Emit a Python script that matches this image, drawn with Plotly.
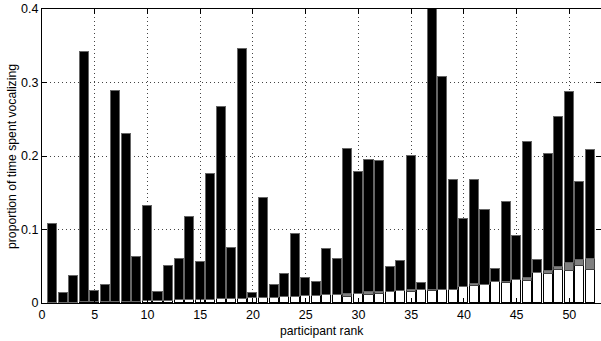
import plotly.graph_objects as go

ranks = list(range(1, 53))
totals = [0.107, 0.0136, 0.037, 0.3415, 0.0163, 0.024, 0.289, 0.2298, 0.062, 0.132,
          0.0146, 0.050, 0.060, 0.117, 0.056, 0.175, 0.2666, 0.075, 0.3457, 0.013,
          0.143, 0.024, 0.0395, 0.0945, 0.034, 0.0286, 0.073, 0.060, 0.2094, 0.1776,
          0.194, 0.1926, 0.049, 0.0568, 0.1994, 0.0268, 0.43, 0.307, 0.167, 0.1144,
          0.1667, 0.1259, 0.046, 0.137, 0.091, 0.219, 0.058, 0.203, 0.2526, 0.2875,
          0.1644, 0.208]
white_part = [0.0, 0.0003, 0.0005, 0.0007, 0.0009, 0.0011, 0.0013, 0.0018, 0.002, 0.0022,
              0.0025, 0.0028, 0.0035, 0.0045, 0.0046, 0.0047, 0.0048, 0.005, 0.0052, 0.0064,
              0.0072, 0.0074, 0.008, 0.0082, 0.009, 0.010, 0.011, 0.011, 0.0085, 0.0118,
              0.011, 0.0128, 0.015, 0.016, 0.015, 0.018, 0.0163, 0.0177, 0.018, 0.0218,
              0.023, 0.0245, 0.028, 0.027, 0.031, 0.0305, 0.041, 0.040, 0.0455, 0.043,
              0.051, 0.0455]
gray_part = [0, 0, 0, 0, 0, 0, 0, 0, 0, 0,
             0, 0, 0, 0, 0, 0, 0, 0, 0, 0,
             0, 0, 0, 0, 0, 0, 0, 0, 0.0038, 0.001,
             0.004, 0.002, 0, 0, 0.0023, 0, 0.0017, 0, 0, 0,
             0.003, 0, 0, 0.001, 0, 0.004, 0, 0.0036, 0.003, 0.011,
             0.007, 0.014]
black_part = [round(t - w - g, 5) for t, w, g in zip(totals, white_part, gray_part)]

xticks = [0, 5, 10, 15, 20, 25, 30, 35, 40, 45, 50]
yticks = [0, 0.1, 0.2, 0.3, 0.4]
yticklabels = ["0", "0.1", "0.2", "0.3", "0.4"]
x_title = "participant rank"
y_title = "proportion of time spent vocalizing"

fig = go.Figure()
for vals, col, lc in [(white_part, "white", "black"),
                      (gray_part, "#808080", "#404040"),
                      (black_part, "black", "#666666")]:
    fig.add_trace(go.Bar(x=ranks, y=vals, width=0.86,
                         marker=dict(color=col, line=dict(color=lc, width=1)),
                         showlegend=False, hoverinfo="skip"))

axis_common = dict(showline=True, linecolor="black", linewidth=1, mirror="ticks",
                   ticks="inside", ticklen=5, tickcolor="black",
                   showgrid=True, gridcolor="#444444", griddash="1px,3px", gridwidth=1,
                   zeroline=False, automargin=False,
                   tickfont=dict(family="Liberation Sans, Arial", size=12.5, color="black"))

title_font = dict(family="Liberation Sans, Arial", size=12.2, color="black")

fig.update_layout(
    barmode="stack", bargap=0,
    width=601, height=341,
    margin=dict(l=42, r=0, t=9, b=38),
    plot_bgcolor="white", paper_bgcolor="white",
    xaxis=dict(range=[0, 53], tickvals=xticks, ticklabelstandoff=0, **axis_common),
    yaxis=dict(range=[0, 0.4], tickvals=yticks, ticktext=yticklabels, **axis_common),
    annotations=[
        dict(text=x_title, xref="paper", yref="paper", x=0.5, y=-0.094,
             xanchor="center", yanchor="middle", showarrow=False, font=title_font),
        dict(text=y_title, xref="paper", yref="paper", x=-0.0537, y=0.5,
             xanchor="center", yanchor="middle", textangle=-90, showarrow=False,
             font=title_font),
    ],
)

fig.write_html("out.html", config={"displayModeBar": False},
               post_script="document.body.style.margin='0';")
